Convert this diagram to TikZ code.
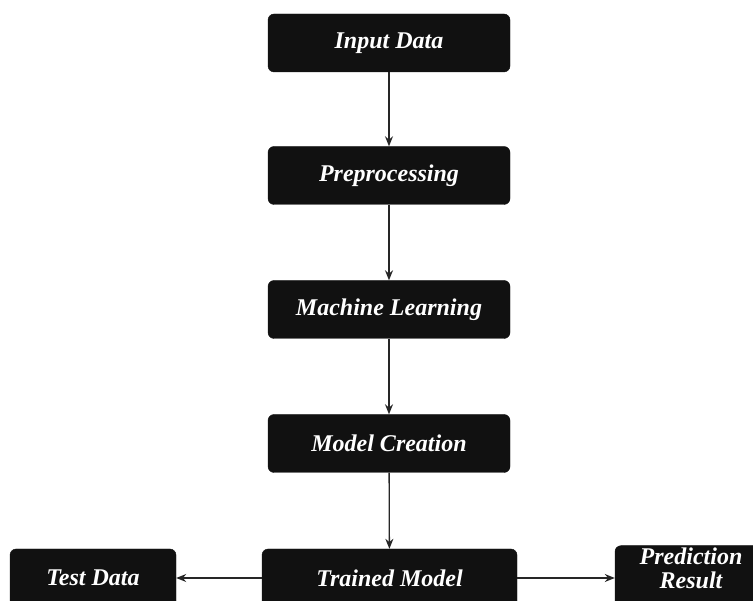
\documentclass[tikz,border=0pt]{standalone}
\usepackage{fontspec}
\setmainfont{Liberation Serif}
\usepackage{xcolor}
\usepackage{tikz}
\usetikzlibrary{arrows.meta}
\definecolor{boxfill}{RGB}{17, 17, 17}

\tikzset{
	stage/.style={fill=boxfill, draw=boxfill, rounded corners=6pt, text=white,
		font=\fontsize{24}{25}\selectfont\bfseries\itshape, align=center,
		minimum width=242pt, minimum height=58pt, inner sep=2pt},
	flow/.style={draw=black!85, line width=1.3pt, -{Stealth[length=10pt,width=8pt]}}
}

\begin{document}
\begin{tikzpicture}[x=1pt, y=-1pt]
			\def\cx{389}
			\useasboundingbox (0,0) rectangle (753,601);
			% main column
			\node[stage] (input) at (\cx, 43) {Input Data};
			\node[stage] (prep)  at (\cx, 175.5) {Preprocessing};
			\node[stage] (ml)    at (\cx, 309.5) {Machine Learning};
			\node[stage] (model) at (\cx, 443.5) {Model Creation};
			% bottom row
			\node[stage, minimum width=255pt] (trained) at (389.5, 578) {Trained Model};
			\node[stage, minimum width=166pt] (test) at (93, 578) {Test Data};
			\node[stage, minimum width=152pt] (pred) at (691, 578) {Prediction\\[-1pt]Result\\[-5pt]\mbox{}};

			\draw[flow] (input) -- (prep);
			\draw[flow] (prep) -- (ml);
			\draw[flow] (ml) -- (model);
			\draw[flow] (model) -- (trained);
			\draw[flow] (trained) -- (test);
			\draw[flow] (trained) -- (pred);
		\end{tikzpicture}
\end{document}
